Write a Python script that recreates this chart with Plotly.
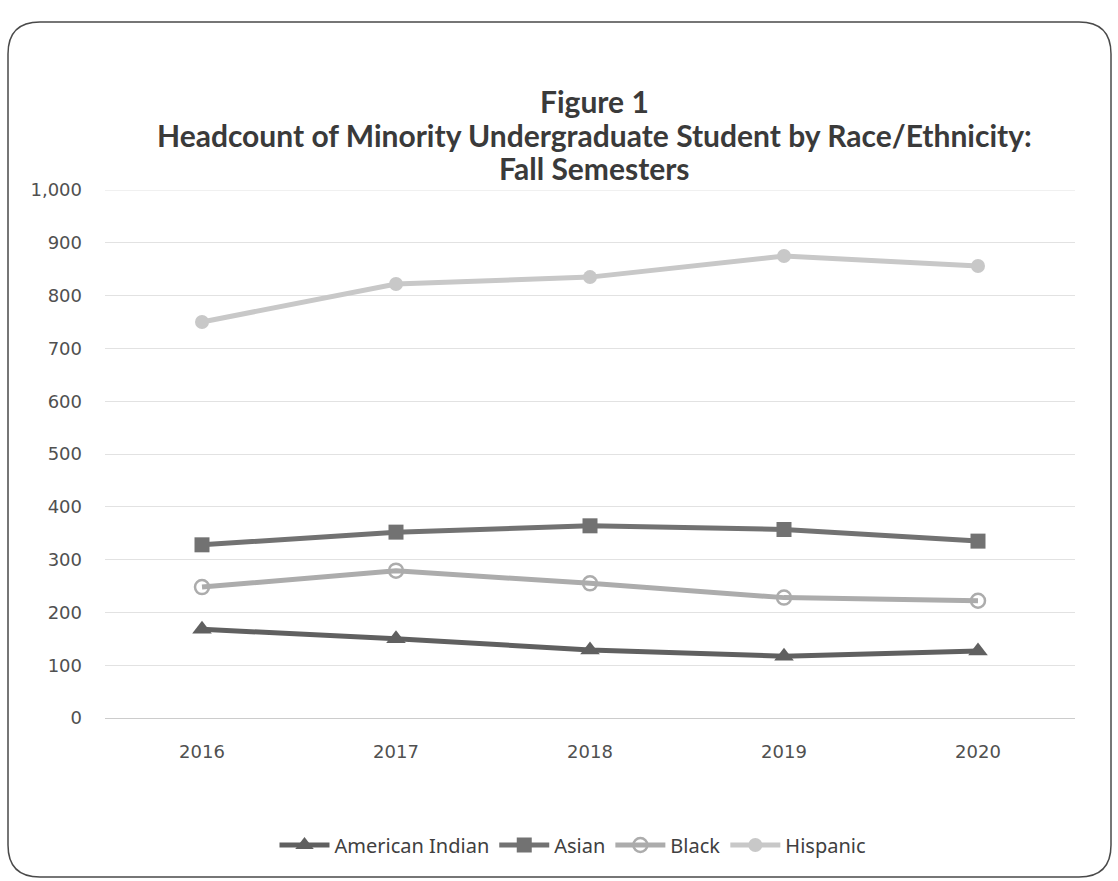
import plotly.graph_objects as go

years = ["2016", "2017", "2018", "2019", "2020"]
american_indian = [168, 150, 129, 117, 127]
asian = [328, 352, 364, 357, 335]
black = [248, 279, 255, 228, 222]
hispanic = [750, 822, 835, 875, 856]

title_lines = ["Figure 1",
               "Headcount of Minority Undergraduate Student by Race/Ethnicity:",
               "Fall Semesters"]

W, H = 1118, 881
L, R, T, B = 105, 43, 190, 163
PW, PH = W - L - R, H - T - B


def px(x):
    return (x - L) / PW


def py(y):
    return (H - B - y) / PH


fig = go.Figure()

series = [
    ("American Indian", american_indian, "#606060", dict(symbol="triangle-up", size=17, color="#606060")),
    ("Asian", asian, "#727272", dict(symbol="square", size=15, color="#727272")),
    ("Black", black, "#acacac", dict(symbol="circle-open", size=14, color="#acacac", line=dict(width=2.5))),
    ("Hispanic", hispanic, "#c8c8c8", dict(symbol="circle", size=14, color="#c8c8c8")),
]
for name, vals, col, mk in series:
    fig.add_trace(go.Scatter(
        x=years, y=vals, name=name, mode="lines+markers",
        line=dict(color=col, width=5), marker=mk,
    ))

# rounded chart border
x0, x1 = px(8), px(1111)
y0, y1 = py(877), py(22)
rx, ry = 32 / PW, 32 / PH
path = (f"M {x0+rx},{y1} L {x1-rx},{y1} Q {x1},{y1} {x1},{y1-ry} "
        f"L {x1},{y0+ry} Q {x1},{y0} {x1-rx},{y0} "
        f"L {x0+rx},{y0} Q {x0},{y0} {x0},{y0+ry} "
        f"L {x0},{y1-ry} Q {x0},{y1} {x0+rx},{y1} Z")
fig.add_shape(type="path", path=path, xref="paper", yref="paper",
              line=dict(color="#4a4a4a", width=1.5))

# top gridline at the axis maximum
fig.add_shape(type="line", xref="paper", yref="y", x0=0, x1=1, y0=1000, y1=1000,
              line=dict(color="#e2e2e2", width=1), layer="below")

for text, ypos in zip(title_lines, [101, 135, 168]):
    fig.add_annotation(
        text=f"<b>{text}</b>", xref="paper", yref="paper",
        x=px(594), y=py(ypos), xanchor="center", yanchor="middle",
        showarrow=False, font=dict(family="Lato", size=30, color="#3a3a3a"),
    )

fig.update_layout(
    width=W, height=H,
    margin=dict(l=L, r=R, t=T, b=B),
    paper_bgcolor="white", plot_bgcolor="white",
    showlegend=True,
    legend=dict(orientation="h", x=px(573), y=py(845), xanchor="center", yanchor="middle",
                font=dict(family="Noto Sans", size=20, color="#404040"),
                itemwidth=50, tracegroupgap=0),
    font=dict(family="DejaVu Sans", color="#555555"),
)
fig.update_xaxes(
    type="category", range=[-0.5, 4.5], showgrid=False, showline=True,
    linecolor="#cccccc", linewidth=1, ticks="", ticklabelstandoff=17,
    tickfont=dict(family="DejaVu Sans", size=18, color="#505050"),
)
fig.update_yaxes(
    range=[0, 1000], dtick=100, tickformat=",", showgrid=True, gridcolor="#e2e2e2",
    gridwidth=1, zeroline=False, showline=False, ticks="", ticklabelstandoff=22,
    tickfont=dict(family="DejaVu Sans", size=18, color="#505050"),
)

fig.write_html("out.html")
